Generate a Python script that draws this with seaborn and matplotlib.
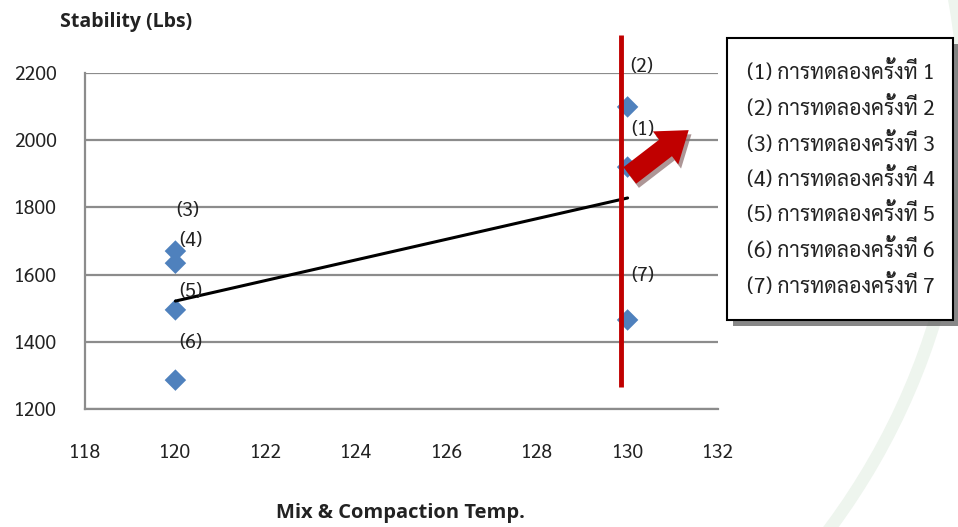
import matplotlib
matplotlib.use("Agg")
import numpy as np
import pandas as pd
import seaborn as sns
import matplotlib.pyplot as plt
import matplotlib.patheffects as pe
from matplotlib.patches import FancyArrowPatch, Rectangle, Arc

# data
trial = ["(1)", "(2)", "(3)", "(4)", "(5)", "(6)", "(7)"]
temp = [130, 130, 120, 120, 120, 120, 130]
stability = [1920, 2099, 1670, 1634, 1495, 1286, 1465]
label_dx = [11, 10, 9, 11, 11, 11, 11]
label_dy = [27, 29, 29, 16, 13, 27, 32]
legend_text = [f"({i}) การทดลองครั้งที่ {i}" for i in range(1, 8)]
x_ticks = list(range(118, 133, 2))
y_ticks = list(range(1200, 2201, 200))

df = pd.DataFrame({"Trial": trial, "Temp": temp, "Stability": stability})

sns.set_style("white")
plt.rcParams["font.family"] = ["Sarabun", "DejaVu Sans"]

fig = plt.figure(figsize=(9.58, 5.27), dpi=100)

# faint watermark arc in the background
W, H = 958, 527
wm = Arc((280 / W, 1 - 120 / H), 2 * 685 / W, 2 * 685 / H, theta1=-58, theta2=20,
         transform=fig.transFigure, color="#eef5ee", lw=9, zorder=-1)
fig.add_artist(wm)

ax = fig.add_axes([0.0887, 0.2239, 0.6608, 0.6376])
ax.patch.set_alpha(0)

grid_c = "#8c8c8c"
for y in y_ticks:
    ax.axhline(y, color=grid_c, lw=1.6, zorder=0)

sns.regplot(data=df, x="Temp", y="Stability", ax=ax, scatter=False, ci=None,
            line_kws=dict(color="black", lw=2.2, zorder=3))
sns.scatterplot(data=df, x="Temp", y="Stability", ax=ax, marker="D", s=120,
                color="#4F81BD", edgecolor="none", zorder=2)

for t, x, y, dx, dy in zip(trial, temp, stability, label_dx, label_dy):
    ax.annotate(t, (x, y), xytext=(dx, dy), textcoords="offset points",
                ha="center", va="center", fontsize=14, color="#222222",
                annotation_clip=False, zorder=4)

# red vertical line and arrow
ax.plot([129.86, 129.86], [1265, 2313], color="#C00000", lw=3.5,
        clip_on=False, zorder=5, solid_capstyle="butt")
arrow = FancyArrowPatch((130.0, 1890), (131.4, 2035),
                        arrowstyle="simple,head_length=1.4,head_width=2.0,tail_width=1.0",
                        mutation_scale=15, color="#C00000", lw=0, zorder=6,
                        clip_on=False)
arrow.set_path_effects([pe.SimplePatchShadow(offset=(2, -3), shadow_rgbFace="#8a6a6a",
                                             alpha=0.7), pe.Normal()])
ax.add_patch(arrow)

ax.set_xlim(118, 132)
ax.set_ylim(1200, 2200)
ax.set_xticks(x_ticks)
ax.set_yticks(y_ticks)
ax.tick_params(axis="x", direction="out", length=7, width=1.3, color=grid_c,
               pad=18, labelsize=14, labelcolor="#222222")
ax.tick_params(axis="y", direction="out", length=7, width=1.3, color=grid_c,
               pad=13, labelsize=14, labelcolor="#222222")
for s in ["top", "right"]:
    ax.spines[s].set_visible(False)
for s in ["left", "bottom"]:
    ax.spines[s].set_color(grid_c)
    ax.spines[s].set_linewidth(1.6)
ax.set_xlabel("")
ax.set_ylabel("")

fig.text(0.063, 0.958, "Stability (Lbs)", fontsize=14, fontweight="bold",
         family=["Open Sans", "DejaVu Sans"], va="center", ha="left", color="#222222")
fig.text(0.4175, 0.026, "Mix & Compaction Temp.", fontsize=14.5, fontweight="bold",
         family=["Open Sans", "DejaVu Sans"], va="center", ha="center", color="#222222")

# legend box with shadow
box = Rectangle((727 / W, 1 - 320 / H), 226 / W, 282 / H,
                transform=fig.transFigure, facecolor="white", edgecolor="black",
                lw=1.5, zorder=10)
box.set_path_effects([pe.SimplePatchShadow(offset=(4, -4), shadow_rgbFace="#555555",
                                           alpha=0.7), pe.Normal()])
fig.add_artist(box)
for i, t in enumerate(legend_text):
    fig.text(747 / W, 1 - (73 + i * 35.5) / H, t, fontsize=15.3,
             family=["Sarabun", "DejaVu Sans"], va="center", ha="left",
             color="#222222", zorder=11)

fig.savefig("out.png", dpi=100)
